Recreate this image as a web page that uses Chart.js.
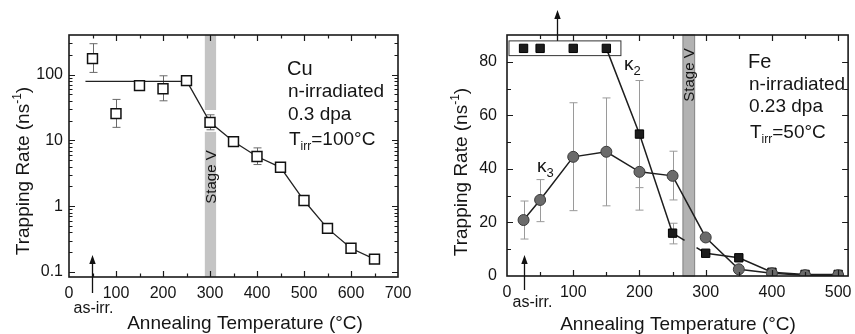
<!DOCTYPE html>
<html>
<head>
<meta charset="utf-8">
<script src="https://cdn.jsdelivr.net/npm/chart.js@4.4.1/dist/chart.umd.min.js"></script>
<style>
  body { margin: 0; background: #fff; }
  .painel { position: absolute; top: 0; height: 334px; }
  #painelCu { left: 0; width: 420px; }
  #painelFe { left: 428px; width: 427px; }
</style>
</head>
<body>
<div class="painel" id="painelCu"><canvas id="graficoCu"></canvas></div>
<div class="painel" id="painelFe"><canvas id="graficoFe"></canvas></div>
<script>
// ---- Cu panel data ----
const cuTemps = [50, 100, 150, 200, 250, 300, 350, 400, 450, 500, 550, 600, 650];
const cuRates = [175, 25.5, 68, 61, 81, 18.8, 9.6, 5.7, 3.9, 1.22, 0.46, 0.23, 0.157];
const cuErrLow = [108, 15.8, null, 40, null, 14.5, null, 4.3, null, null, null, null, null];
const cuErrHigh = [295, 42, null, 96, null, 24.5, null, 7.7, null, null, null, null, null];
const cuFitTemps = [35, 250];
const cuFitRates = [79, 79];
const cuLineFrom = 4;          // points joined by a line from 250 C on
const cuYTickLabels = [0.1, 1, 10, 100];
const cuStage = [289, 313];    // Stage V band (C)
const cuStageGap = [13.5, 29]; // white gap in band (ns-1)

// ---- Fe panel data ----
const feTemps = [25, 50, 100, 150, 200, 250, 300, 350, 400, 450, 500];
const k2Rates = [85, 85, 85, 85, 53, 16, 8.5, 6.8, 1.4, 0.6, 0.6];
const k2ErrLow = [null, null, null, null, 33, 12, null, null, null, null, null];
const k2ErrHigh = [null, null, null, null, 73, 19.7, null, null, null, null, null];
const k3Rates = [20.9, 28.4, 44.5, 46.4, 38.9, 37.4, 14.4, 2.5, 1.0, 0.3, 0.3];
const k3ErrLow = [13.8, 20.3, 24.4, 26.2, 24.6, 28.4, null, null, null, null, null];
const k3ErrHigh = [28, 36, 64.7, 66.5, 53, 46.6, null, null, null, null, null];
const feYTickLabels = [0, 20, 40, 60, 80];
const feStage = [265, 284];
const feBox = { x0: 3, x1: 172, y0: 82.3, y1: 87.8, arrowAt: 75 };

const FONTE = 'Liberation Sans, Arial, Helvetica, sans-serif';
const COR_TEXTO = '#151515';

function pontos(xs, ys) {
  return xs.map((x, i) => ({ x: x, y: ys[i] }));
}

// draws a row of text pieces (normal, sub, superscript)
function escreve(ctx, x, y, pedacos, align, angulo) {
  ctx.save();
  ctx.translate(x, y);
  if (angulo) ctx.rotate(angulo);
  ctx.fillStyle = COR_TEXTO;
  ctx.textBaseline = 'alphabetic';
  ctx.textAlign = 'left';
  let total = 0;
  pedacos.forEach(p => { ctx.font = p.size + 'px ' + FONTE; total += ctx.measureText(p.text).width; });
  let cx = align === 'center' ? -total / 2 : 0;
  pedacos.forEach(p => {
    ctx.font = p.size + 'px ' + FONTE;
    ctx.fillText(p.text, cx, p.dy || 0);
    cx += ctx.measureText(p.text).width;
  });
  ctx.restore();
}

function seta(ctx, x, yDe, yAte) {
  ctx.save();
  ctx.strokeStyle = '#111';
  ctx.fillStyle = '#111';
  ctx.lineWidth = 1.3;
  ctx.beginPath();
  ctx.moveTo(x, yDe);
  ctx.lineTo(x, yAte + 6);
  ctx.stroke();
  ctx.beginPath();
  ctx.moveTo(x, yAte);
  ctx.lineTo(x - 3.2, yAte + 9);
  ctx.lineTo(x + 3.2, yAte + 9);
  ctx.closePath();
  ctx.fill();
  ctx.restore();
}

function barrasDeErro(chart, xs, lows, highs, cor) {
  const { ctx, scales: { x, y } } = chart;
  ctx.save();
  ctx.strokeStyle = cor;
  ctx.lineWidth = 1;
  ctx.beginPath();
  xs.forEach((t, i) => {
    if (lows[i] == null) return;
    const px = Math.round(x.getPixelForValue(t)) + 0.5;
    const y1 = y.getPixelForValue(lows[i]);
    const y2 = y.getPixelForValue(highs[i]);
    ctx.moveTo(px, y1); ctx.lineTo(px, y2);
    ctx.moveTo(px - 4, y1); ctx.lineTo(px + 4, y1);
    ctx.moveTo(px - 4, y2); ctx.lineTo(px + 4, y2);
  });
  ctx.stroke();
  ctx.restore();
}

// inward ticks on all four sides plus the frame
function moldura(chart, xTicks, yTicks) {
  const { ctx, chartArea: a, scales: { x, y } } = chart;
  ctx.save();
  ctx.strokeStyle = '#1a1a1a';
  ctx.lineWidth = 1.2;
  ctx.beginPath();
  xTicks.forEach(t => {
    const px = Math.round(x.getPixelForValue(t.v)) + 0.5;
    if (px < a.left + 2 || px > a.right - 2) return;
    ctx.moveTo(px, a.bottom); ctx.lineTo(px, a.bottom - t.len);
    ctx.moveTo(px, a.top); ctx.lineTo(px, a.top + t.len);
  });
  yTicks.forEach(t => {
    const py = Math.round(y.getPixelForValue(t.v)) + 0.5;
    if (py < a.top + 2 || py > a.bottom - 2) return;
    ctx.moveTo(a.left, py); ctx.lineTo(a.left + t.len, py);
    ctx.moveTo(a.right, py); ctx.lineTo(a.right - t.len, py);
  });
  ctx.stroke();
  ctx.lineWidth = 1.6;
  ctx.strokeRect(a.left, a.top, a.width, a.height);
  ctx.restore();
}

function larguraFixa(w) {
  return s => { s.width = w; s.paddingTop = 0; s.paddingBottom = 0; };
}
function alturaFixa(h) {
  return s => { s.height = h; s.paddingLeft = 0; s.paddingRight = 0; };
}

const fonteTicks = { family: FONTE, size: 16 };

// ---------------- Cu ----------------
const cuXTicks = [];
for (let t = 50; t < 700; t += 50) cuXTicks.push({ v: t, len: t % 100 === 0 ? 6 : 3.5 });
const cuYTicks = [];
for (let e = -2; e <= 2; e++) {
  for (let m = 1; m <= 9; m++) cuYTicks.push({ v: m * Math.pow(10, e), len: m === 1 ? 6 : 3.5 });
}

const pluginCu = {
  id: 'extrasCu',
  beforeDatasetsDraw(chart) {
    const { ctx, chartArea: a, scales: { x, y } } = chart;
    const x0 = x.getPixelForValue(cuStage[0]);
    const x1 = x.getPixelForValue(cuStage[1]);
    ctx.save();
    ctx.fillStyle = '#c4c4c4';
    ctx.fillRect(x0, a.top, x1 - x0, y.getPixelForValue(cuStageGap[1]) - a.top);
    const yg = y.getPixelForValue(cuStageGap[0]);
    ctx.fillRect(x0, yg, x1 - x0, a.bottom - yg);
    ctx.restore();
    escreve(ctx, (x0 + x1) / 2 + 5.5, 177, [{ text: 'Stage V', size: 15 }], 'center', -Math.PI / 2);
    barrasDeErro(chart, cuTemps, cuErrLow, cuErrHigh, '#6a6a6a');
  },
  afterDraw(chart) {
    const { ctx, scales: { x } } = chart;
    moldura(chart, cuXTicks, cuYTicks);
    escreve(ctx, 287, 75, [{ text: 'Cu', size: 20 }], 'left');
    escreve(ctx, 288, 97, [{ text: 'n-irradiated', size: 19 }], 'left');
    escreve(ctx, 288, 120, [{ text: '0.3 dpa', size: 19 }], 'left');
    escreve(ctx, 289, 145, [{ text: 'T', size: 19 }, { text: 'irr', size: 12, dy: 5 }, { text: '=100°C', size: 19 }], 'left');
    const ax = x.getPixelForValue(cuTemps[0]);
    seta(ctx, ax, 293, 255);
    escreve(ctx, ax + 1, 313, [{ text: 'as-irr.', size: 16 }], 'center');
    escreve(ctx, 245, 329, [{ text: 'Annealing Temperature (°C)', size: 19 }], 'center');
    escreve(ctx, 29, 171, [{ text: 'Trapping Rate (ns', size: 19 }, { text: '-1', size: 12, dy: -8 }, { text: ')', size: 19 }], 'center', -Math.PI / 2);
  }
};

new Chart(document.getElementById('graficoCu'), {
  type: 'scatter',
  data: {
    datasets: [
      {
        label: 'Cu',
        data: pontos(cuTemps, cuRates),
        showLine: false,
        pointStyle: 'rect',
        pointRadius: 7,
        pointBorderWidth: 1.5,
        borderColor: '#111',
        backgroundColor: '#fff',
        order: 0
      },
      {
        label: 'ligacao',
        data: pontos(cuTemps.slice(cuLineFrom), cuRates.slice(cuLineFrom)),
        showLine: true,
        pointRadius: 0,
        borderColor: '#222',
        borderWidth: 1.3,
        order: 1
      },
      {
        label: 'ajuste',
        data: pontos(cuFitTemps, cuFitRates),
        showLine: true,
        pointRadius: 0,
        borderColor: '#222',
        borderWidth: 1.3,
        order: 1
      }
    ]
  },
  options: {
    responsive: true,
    maintainAspectRatio: false,
    animation: false,
    events: [],
    layout: { padding: { left: 0, right: 22, top: 35, bottom: 0 } },
    scales: {
      x: {
        type: 'linear',
        min: 0,
        max: 700,
        afterFit: alturaFixa(57),
        grid: { display: false, drawTicks: false },
        border: { display: false },
        ticks: { stepSize: 100, includeBounds: false, font: fonteTicks, color: COR_TEXTO, padding: 7, maxRotation: 0 }
      },
      y: {
        type: 'logarithmic',
        min: 0.084,
        max: 400,
        afterFit: larguraFixa(69),
        grid: { display: false, drawTicks: false },
        border: { display: false },
        ticks: {
          autoSkip: false,
          font: fonteTicks,
          color: COR_TEXTO,
          padding: 6,
          callback: function (v) {
            const rotulo = cuYTickLabels.find(r => Math.abs(r - v) < r * 1e-6);
            return rotulo === undefined ? '' : String(rotulo);
          }
        }
      }
    },
    plugins: { legend: { display: false }, tooltip: { enabled: false } }
  },
  plugins: [pluginCu]
});

// ---------------- Fe ----------------
const feXTicks = [];
for (let t = 50; t <= 500; t += 50) feXTicks.push({ v: t, len: t % 100 === 0 ? 6 : 4 });
const feYTicks = [];
for (let v = 10; v <= 80; v += 10) feYTicks.push({ v: v, len: v % 20 === 0 ? 6 : 4 });

const pluginFe = {
  id: 'extrasFe',
  beforeDatasetsDraw(chart) {
    const { ctx, chartArea: a, scales: { x } } = chart;
    const x0 = x.getPixelForValue(feStage[0]);
    const x1 = x.getPixelForValue(feStage[1]);
    ctx.save();
    ctx.fillStyle = '#b2b2b2';
    ctx.fillRect(x0, a.top, x1 - x0, a.height);
    ctx.strokeStyle = '#8a8a8a';
    ctx.lineWidth = 1;
    ctx.strokeRect(x0 + 0.5, a.top, x1 - x0 - 1, a.height);
    ctx.restore();
    escreve(ctx, (x0 + x1) / 2 + 5.5, 75, [{ text: 'Stage V', size: 15 }], 'center', -Math.PI / 2);
    barrasDeErro(chart, feTemps, k3ErrLow, k3ErrHigh, '#9a9a9a');
    barrasDeErro(chart, feTemps, k2ErrLow, k2ErrHigh, '#9a9a9a');
    // box round the off-scale kappa2 points
    const { y } = chart.scales;
    const bx0 = x.getPixelForValue(feBox.x0), bx1 = x.getPixelForValue(feBox.x1);
    const by0 = y.getPixelForValue(feBox.y1), by1 = y.getPixelForValue(feBox.y0);
    ctx.save();
    ctx.fillStyle = '#fff';
    ctx.fillRect(bx0, by0, bx1 - bx0, by1 - by0);
    ctx.strokeStyle = '#333';
    ctx.lineWidth = 1;
    ctx.strokeRect(bx0, by0, bx1 - bx0, by1 - by0);
    ctx.restore();
    seta(ctx, Math.round(x.getPixelForValue(feBox.arrowAt)) + 0.5, by0, 10);
  },
  afterDraw(chart) {
    const { ctx, scales: { x } } = chart;
    moldura(chart, feXTicks, feYTicks);
    escreve(ctx, 320, 68, [{ text: 'Fe', size: 20 }], 'left');
    escreve(ctx, 321, 90, [{ text: 'n-irradiated', size: 19 }], 'left');
    escreve(ctx, 321, 112, [{ text: '0.23 dpa', size: 19 }], 'left');
    escreve(ctx, 322, 138, [{ text: 'T', size: 19 }, { text: 'irr', size: 12, dy: 5 }, { text: '=50°C', size: 19 }], 'left');
    escreve(ctx, 196, 70, [{ text: 'κ', size: 19 }, { text: '2', size: 13, dy: 5 }], 'left');
    escreve(ctx, 109, 172, [{ text: 'κ', size: 19 }, { text: '3', size: 13, dy: 5 }], 'left');
    const ax = Math.round(x.getPixelForValue(feTemps[0])) + 0.5;
    seta(ctx, ax, 290, 255);
    escreve(ctx, ax + 8, 307, [{ text: 'as-irr.', size: 16 }], 'center');
    escreve(ctx, 250, 330, [{ text: 'Annealing Temperature (°C)', size: 19 }], 'center');
    escreve(ctx, 39, 172, [{ text: 'Trapping Rate (ns', size: 19 }, { text: '-1', size: 12, dy: -8 }, { text: ')', size: 19 }], 'center', -Math.PI / 2);
  }
};

new Chart(document.getElementById('graficoFe'), {
  type: 'scatter',
  data: {
    datasets: [
      {
        label: 'kappa3',
        data: pontos(feTemps, k3Rates),
        showLine: true,
        pointStyle: 'circle',
        pointRadius: 5.5,
        pointBorderWidth: 1,
        pointBorderColor: '#3a3a3a',
        pointBackgroundColor: '#6b6b6b',
        borderColor: '#1e1e1e',
        borderWidth: 1.5,
        order: 0
      },
      {
        label: 'kappa2',
        data: pontos(feTemps, k2Rates),
        showLine: true,
        pointStyle: 'rect',
        pointRadius: 5.9,
        pointBorderWidth: 1,
        pointBorderColor: '#000',
        pointBackgroundColor: '#1c1c1c',
        borderColor: '#1e1e1e',
        borderWidth: 1.5,
        segment: {
          borderColor: c => c.p0DataIndex < 3 ? 'rgba(0,0,0,0)' : undefined,
          borderDash: c => c.p0DataIndex === 5 ? [14, 14, 40] : undefined
        },
        order: 1
      }
    ]
  },
  options: {
    responsive: true,
    maintainAspectRatio: false,
    animation: false,
    events: [],
    layout: { padding: { left: 0, right: 2, top: 35, bottom: 0 } },
    scales: {
      x: {
        type: 'linear',
        min: 0,
        max: 515,
        afterFit: alturaFixa(58),
        grid: { display: false, drawTicks: false },
        border: { display: false },
        ticks: { stepSize: 100, includeBounds: false, font: fonteTicks, color: COR_TEXTO, padding: 7, maxRotation: 0 }
      },
      y: {
        type: 'linear',
        min: 0,
        max: 90,
        afterFit: larguraFixa(79),
        grid: { display: false, drawTicks: false },
        border: { display: false },
        ticks: {
          stepSize: 20,
          includeBounds: false,
          font: fonteTicks,
          color: COR_TEXTO,
          padding: 10,
          callback: v => feYTickLabels.includes(v) ? String(v) : ''
        }
      }
    },
    plugins: { legend: { display: false }, tooltip: { enabled: false } }
  },
  plugins: [pluginFe]
});
</script>
</body>
</html>
